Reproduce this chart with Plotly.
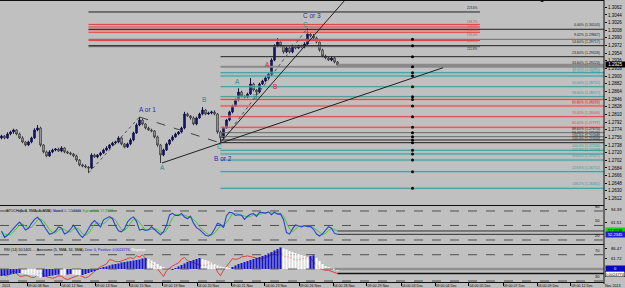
import plotly.graph_objects as go

# ---------------- data ----------------
close = [1.27592, 1.27545, 1.27639, 1.27686, 1.27733, 1.27639, 1.27545, 1.27451, 1.27380, 1.27451,
         1.27545, 1.27733, 1.27780, 1.27380, 1.27216, 1.27122, 1.27216, 1.27263, 1.27286, 1.27239,
         1.27310, 1.27216, 1.27192, 1.27169, 1.27122, 1.27027, 1.26910, 1.26886, 1.26863, 1.26839,
         1.27145, 1.27098, 1.27145, 1.27192, 1.27263, 1.27310, 1.27380, 1.27427, 1.27451, 1.27545,
         1.27404, 1.27333, 1.27404, 1.27498, 1.27663, 1.27851, 1.27968, 1.27874, 1.27780, 1.27733,
         1.27710, 1.27569, 1.27380, 1.27145, 1.27263, 1.27404, 1.27498, 1.27569, 1.27639, 1.27686,
         1.27780, 1.28110, 1.28063, 1.28016, 1.27874, 1.28016, 1.28110, 1.28204, 1.28110, 1.28133,
         1.28157, 1.28110, 1.27686, 1.27545, 1.27780, 1.27968, 1.28157, 1.28298, 1.28439, 1.28627,
         1.28533, 1.28510, 1.28580, 1.28816, 1.28674, 1.28627, 1.28816, 1.28886, 1.28957, 1.29051,
         1.29380, 1.29710, 1.29804, 1.29710, 1.29569, 1.29663, 1.29569, 1.29710, 1.29663, 1.29710,
         1.29686, 1.29757, 1.29992, 1.29945, 1.29898, 1.29804, 1.29616, 1.29474, 1.29427, 1.29380,
         1.29427, 1.29333, 1.29263]
first_open = 1.27545
hi_wick_pips = [3, 2, 4, 3, 3, 2, 3, 4, 2, 3,
                3, 4, 7, 3, 2, 3, 4, 3, 2, 3,
                4, 2, 3, 3, 2, 3, 2, 3, 4, 2,
                4, 3, 2, 3, 3, 4, 2, 3, 3, 4,
                3, 2, 3, 4, 3, 4, 7, 3, 2, 3,
                3, 2, 3, 2, 3, 3, 2, 4, 3, 2,
                3, 5, 3, 2, 4, 3, 3, 7, 2, 3,
                3, 4, 2, 3, 3, 2, 3, 3, 4, 9,
                3, 2, 3, 14, 3, 2, 3, 3, 4, 3,
                4, 4, 9, 3, 2, 4, 3, 3, 2, 3,
                3, 4, 14, 3, 5, 3, 2, 3, 3, 2,
                3, 2, 2]
lo_wick_pips = [3, 3, 2, 3, 4, 3, 2, 3, 3, 2,
                3, 2, 3, 4, 3, 3, 2, 3, 3, 2,
                3, 3, 2, 3, 3, 4, 3, 3, 3, 12,
                3, 2, 3, 3, 2, 3, 3, 2, 3, 3,
                3, 3, 2, 3, 3, 2, 3, 3, 3, 2,
                3, 3, 4, 19, 3, 2, 3, 3, 2, 3,
                3, 3, 2, 4, 3, 3, 2, 3, 3, 2,
                3, 3, 4, 12, 3, 2, 3, 3, 2, 3,
                3, 4, 3, 2, 3, 12, 3, 2, 3, 3,
                2, 3, 3, 3, 4, 3, 3, 3, 3, 2,
                3, 3, 2, 3, 3, 3, 4, 3, 3, 2,
                3, 3, 2]

stoch_main = [37.9, 25.5, 29.7, 37.2, 44.1, 50.7, 56.9, 50.3, 40.7, 44.1,
              54.5, 62.8, 66.9, 60.7, 50.5, 41.4, 31.7, 33.8, 38.6, 46.9,
              44.8, 32.4, 35.5, 42.2, 50.5, 41.4, 31.7, 25.2, 32.4, 43.4,
              53.8, 60.3, 52.8, 46.9, 61.6, 65.7, 68.3, 64.1, 49.3, 39.0,
              36.9, 43.1, 57.2, 64.3, 67.8, 58.6, 40.3, 42.4, 39.7, 41.0,
              47.2, 41.7, 35.9, 31.0, 37.2, 50.3, 71.7, 75.2, 70.7, 70.8,
              75.0, 67.4, 64.0, 69.3, 54.8, 45.5, 41.4, 35.5, 30.0, 27.9,
              32.1, 42.4, 54.5, 51.9, 45.5, 70.3, 77.6, 76.0, 70.7, 72.1,
              71.0, 62.8, 69.1, 73.2, 74.8, 68.6, 77.1, 76.9, 75.7, 78.3,
              72.1, 77.6, 73.4, 74.0, 62.1, 35.3, 32.1, 43.0, 51.3, 49.0,
              47.2, 49.8, 47.6, 47.6, 42.1, 32.4, 28.3, 32.6, 39.8, 47.4,
              44.3, 33.6, 31.7]
stoch_signal = [38.0, 32.0, 31.0, 30.8, 37.0, 44.0, 50.6, 52.6, 49.3, 45.0,
                46.4, 53.8, 61.4, 63.5, 59.4, 50.9, 41.2, 35.6, 34.7, 39.8,
                43.4, 41.4, 37.6, 36.7, 42.7, 44.7, 41.2, 32.8, 29.8, 33.7,
                43.2, 52.5, 55.6, 53.3, 53.8, 58.1, 65.2, 66.0, 60.6, 50.8,
                41.7, 39.7, 45.7, 54.9, 63.1, 63.6, 55.6, 47.1, 40.8, 41.0,
                42.6, 43.3, 41.6, 36.2, 34.7, 39.5, 53.1, 65.7, 72.5, 72.2,
                72.2, 71.1, 68.8, 66.9, 62.7, 56.5, 47.2, 40.8, 35.6, 31.1,
                30.0, 34.1, 43.0, 49.6, 50.6, 55.9, 64.5, 74.6, 74.8, 72.9,
                71.3, 68.6, 67.6, 68.4, 72.4, 72.2, 73.5, 74.2, 76.6, 77.0,
                75.4, 76.0, 74.4, 75.0, 69.8, 57.1, 43.2, 36.8, 42.1, 47.8,
                49.2, 48.7, 48.2, 48.3, 45.8, 40.7, 34.3, 31.1, 33.6, 39.9,
                43.8, 41.8, 38.6]
rsi = [42.1, 38.9, 37.7, 42.1, 46.0, 41.6, 37.2, 37.4, 38.4, 37.5,
       35.3, 35.7, 40.1, 43.3, 39.9, 36.6, 35.4, 34.2, 35.5, 37.8,
       37.2, 33.9, 32.1, 34.3, 36.5, 37.6, 38.7, 37.0, 34.8, 36.7,
       41.1, 45.1, 48.5, 51.6, 53.8, 56.0, 62.5, 61.7, 59.5, 59.3,
       60.4, 62.0, 64.2, 65.7, 63.8, 68.3, 66.4, 69.8, 64.6, 59.8,
       57.5, 54.0, 48.5, 42.7, 36.9, 45.8, 49.5, 52.8, 55.3, 57.5,
       63.1, 65.9, 60.8, 59.7, 58.5, 56.3, 54.1, 53.7, 53.7, 55.1,
       57.3, 54.3, 43.8, 37.9, 46.6, 52.2, 57.7, 64.2, 62.8, 63.8,
       66.6, 67.7, 68.2, 67.1, 66.0, 64.9, 63.8, 64.5, 65.6, 67.4,
       69.6, 72.7, 75.3, 72.7, 68.1, 67.0, 66.2, 64.2, 62.0, 62.5,
       64.0, 64.7, 65.4, 65.1, 59.1, 54.0, 49.5, 47.5, 46.3, 46.3,
       44.8, 42.3, 41.4]
ao_e4 = [-10.5, -9.8, -9.0, -8.3, -7.5, -6.8, -6.0,
         -6.8, -7.5, -8.3, -9.0, -9.8, -10.5, -12.8,
         -12.0, -11.3, -10.5, -9.8, -9.0, -8.3,
         -9.0, -9.8, -8.3, -7.5, -8.3, -9.0, -9.8, -9.0, -7.5, -6.0,
         -4.5, -3.0, -1.5,
         0.8, 2.3, 3.8, 5.3, 6.8, 7.5, 8.3, 9.8, 10.5, 11.3, 12.0, 12.8, 13.5, 14.3, 15.8, 16.5,
         15.0, 12.8, 10.5, 7.5, 4.5,
         2.3, 0.8, -1.5,
         -0.8, 1.5,
         3.8, 6.0, 8.3, 10.5, 12.0, 13.5, 15.0, 16.5,
         15.0, 13.5, 12.0, 9.8, 7.5, 5.3, 3.8,
         3.0, 2.3, 1.5,
         3.0, 5.3, 7.5, 9.0, 10.5, 12.0, 13.5, 15.0, 16.5, 18.0, 19.5, 21.0, 23.3, 25.5, 27.8, 30.0, 32.3,
         30.8, 29.3, 27.0, 25.5, 24.0, 22.5, 21.0, 19.5, 18.0,
         19.5, 20.3, 16.5, 12.0, 7.5, 4.5, 2.3, 0.8, -1.5, -3.0]

# Fibonacci extension levels (drawn from the first swing low to mid-chart)
ext_pct = ["223.6%", "138.2%", "150.0%", "161.8%", "176.4%", "200.0%", "211.8%"]
ext_price = [1.30510, 1.30216, 1.30157, 1.30091, 1.30032, 1.29839, 1.29693]
ext_kind = ["k", "r", "r", "r", "r", "r", "g"]
# Fibonacci levels running to the right edge
fib_pct = ["0.00%", "9.02%", "14.60%", "23.60%", "33.60%", "38.20%", "41.40%", "50.00%",
           "58.60%", "61.80%", "66.80%", "76.40%", "85.40%", "88.60%", "94.40%", "100.0%",
           "100.0%", "100.0%", "103.3%", "114.6%", "123.6%", "138.2%"]
fib_price = [1.30103, 1.29867, 1.29717, 1.29458, 1.29223, 1.29081, 1.29004, 1.28752,
             1.28517, 1.28451, 1.28298, 1.28046, 1.27797, 1.27670, 1.27576, 1.27498,
             1.27434, 1.27256, 1.27169, 1.27027, 1.26752, 1.26361]
fib_kind = ["k", "g", "k", "k", "G", "t", "t", "t",
            "t", "r", "r", "r", "r", "g", "g", "k",
            "k", "t", "t", "t", "t", "t"]
fib_anchor_bar = [29, 29, 29, 73, 73, 73, 73, 73, 73, 73, 73, 73, 73, 73, 73, 73,
                  73, 73, 73, 73, 73, 73]
ext_anchor_bar = 29
ext_end_bar = 159.5
marker_bar = 137

# wave labels
wave_text = ["A or 1", "B", "A", "B or 2", "C", "A", "B", "A", "B", "C", "C or 3"]
wave_bar = [48.5, 67.5, 53.5, 73.8, 72.8, 78.5, 84.5, 88.5, 91.2, 101.2, 103.5]
wave_price = [1.28204, 1.28439, 1.26839, 1.27074, 1.27333, 1.28863, 1.28510, 1.29263,
              1.28745, 1.30204, 1.30439]
wave_kind = ["n", "t", "t", "n", "t", "t", "t", "r", "r", "t", "n"]

# trend lines: (bar0, price0, bar1, price1)
trend_solid = [(72.8, 1.27427, 114.5, 1.30792), (53.5, 1.26957, 147.2, 1.29199)]
trend_dash = [(46, 1.28039, 73, 1.27427)]
trend_dot = [(29, 1.26722, 46, 1.28039), (73, 1.27427, 102, 1.30133)]

price_ticks = ["1.2612", "1.2630", "1.2648", "1.2666", "1.2684", "1.2702", "1.2720", "1.2738",
               "1.2756", "1.2774", "1.2792", "1.2810", "1.2828", "1.2846", "1.2864", "1.2882",
               "1.2900", "1.2918", "1.2936", "1.2954", "1.2972", "1.2990", "1.3008", "1.3026",
               "1.3044", "1.3062", "1.3080"]
time_tick_bar = [8.5, 19.8, 31.2, 42.5, 53.8, 65.2, 76.5, 87.8, 99.2, 110.5, 121.8, 133.2,
                 144.5, 155.8, 167.2, 178.5, 189.8]
time_tick_text = ["09:00 08 Nov", "04:00 12 Nov", "09:00 13 Nov", "04:00 15 Nov", "09:00 19 Nov",
                  "04:00 20 Nov", "09:00 21 Nov", "04:00 23 Nov", "09:00 26 Nov", "04:00 28 Nov",
                  "09:00 29 Nov", "04:00 03 Dec", "09:00 04 Dec", "04:00 05 Dec", "09:00 07 Dec",
                  "04:00 09 Dec", "09:00 12 Dec"]
stoch_levels = [80, 50, 20]
rsi_levels = [70, 30]
current_price = 1.29263

# ---------------- styling ----------------
W, H = 625, 288
AX_R = 604 / W
BG = "#c0c0c0"
FONT = "Liberation Sans"
COL = {"k": "#202020", "r": "#d84a4a", "g": "#6a6a6a", "G": "#8a8a8a", "t": "#3a9a9a",
       "n": "#2a2ab0"}
HALO = {"r": "rgba(240,150,150,0.5)", "t": "rgba(120,200,200,0.4)"}
X_RANGE = [-0.5, -0.5 + 604 / 3]
N = len(close)
bars = list(range(N))
# vertical nudges (px) so stacked extension labels do not collide
ext_label_shift = [0, 2, 0.5, -0.7, -2.2, 0, -2]

opens = [first_open] + close[:-1]
highs = [max(o, c) + w * 1e-4 for o, c, w in zip(opens, close, hi_wick_pips)]
lows = [min(o, c) - w * 1e-4 for o, c, w in zip(opens, close, lo_wick_pips)]

fig = go.Figure()

def hline(x0, x1, y, color, width=1, dash="solid", yaxis="y"):
    fig.add_trace(go.Scatter(x=[x0, x1], y=[y, y], mode="lines", yaxis=yaxis,
                             line=dict(color=color, width=width, dash=dash),
                             hoverinfo="skip"))

def level(x0, x1, y, kind, width=1):
    if kind in HALO:
        hline(x0, x1, y, HALO[kind], 3)
    hline(x0, x1, y, COL[kind], width)

for p, k in zip(ext_price, ext_kind):
    level(ext_anchor_bar, ext_end_bar, p, k)
for p, k, a in zip(fib_price, fib_kind, fib_anchor_bar):
    level(a, X_RANGE[1], p, k, 2 if k == "G" else 1)
hline(N - 1, X_RANGE[1], current_price, "#8a8a8a", 2.5)

for (b0, p0, b1, p1) in trend_solid:
    fig.add_trace(go.Scatter(x=[b0, b1], y=[p0, p1], mode="lines",
                             line=dict(color="#202020", width=1), hoverinfo="skip"))
for (b0, p0, b1, p1) in trend_dash:
    fig.add_trace(go.Scatter(x=[b0, b1], y=[p0, p1], mode="lines",
                             line=dict(color="#404040", width=1, dash="dash"), hoverinfo="skip"))
for (b0, p0, b1, p1) in trend_dot:
    fig.add_trace(go.Scatter(x=[b0, b1], y=[p0, p1], mode="lines",
                             line=dict(color="#505050", width=1, dash="dot"), hoverinfo="skip"))

fig.add_trace(go.Candlestick(
    x=bars, open=opens, high=highs, low=lows, close=close,
    increasing=dict(line=dict(color="#10104a", width=1), fillcolor="#1c1c86"),
    decreasing=dict(line=dict(color="#383838", width=1), fillcolor="#e4e4e4"),
    whiskerwidth=0, hoverinfo="skip"))

fig.add_trace(go.Scatter(x=[marker_bar] * (len(fib_price) - 1), y=fib_price[1:], mode="markers",
                         marker=dict(color="black", size=3), hoverinfo="skip"))
fig.add_trace(go.Scatter(x=[180.2], y=[1.30792], mode="markers",
                         marker=dict(color="black", size=4), hoverinfo="skip", cliponaxis=True))

# stochastic
for lv in stoch_levels:
    hline(X_RANGE[0], X_RANGE[1], lv, "#505050", 1, "dash", "y2")
fig.add_trace(go.Scatter(x=bars, y=stoch_signal, mode="lines", yaxis="y2",
                         line=dict(color="#3cc83c", width=1), hoverinfo="skip"))
fig.add_trace(go.Scatter(x=bars, y=stoch_main, mode="lines", yaxis="y2",
                         line=dict(color="#2a44c8", width=1.1), hoverinfo="skip"))
hline(N - 1, X_RANGE[1], stoch_signal[-1], "#303030", 1, "solid", "y2")
hline(N - 1, X_RANGE[1], stoch_main[-1], "#303030", 1, "solid", "y2")

# RSI + Awesome
for lv in rsi_levels:
    hline(X_RANGE[0], X_RANGE[1], lv, "#505050", 1, "dash", "y3")
ao_cols = ["#1414d0"] + ["#1414d0" if ao_e4[i] > ao_e4[i - 1] else "#ffffff" for i in range(1, N)]
fig.add_trace(go.Bar(x=bars, y=ao_e4, yaxis="y4", marker=dict(color=ao_cols, line=dict(width=0)),
                     width=0.7, hoverinfo="skip"))
hline(X_RANGE[0], X_RANGE[1], 0, "#606060", 1, "dash", "y4")
hline(N - 2, X_RANGE[1], 0, "#909090", 2.5, "solid", "y4")
fig.add_trace(go.Scatter(x=bars, y=rsi, mode="lines", yaxis="y3",
                         line=dict(color="#e04030", width=1), hoverinfo="skip"))
hline(N - 1, X_RANGE[1], rsi[-1], "#101010", 1.5, "solid", "y3")

ann = []
def txt(x, y, s, color="black", size=4.5, xanchor="center", yanchor="middle",
        xref="x", yref="y", **kw):
    ann.append(dict(x=x, y=y, text=s, showarrow=False, xref=xref, yref=yref,
                    xanchor=xanchor, yanchor=yanchor,
                    font=dict(family=FONT, size=size, color=color), **kw))

for i, (p, k, s) in enumerate(zip(ext_price, ext_kind, ext_pct)):
    c = COL[k] if k != "g" else "#202020"
    txt(ext_end_bar, p, s, c, 3.1, "right", "bottom" if i == 0 else "middle",
        yshift=ext_label_shift[i])
for s, p, k in zip(fib_pct, fib_price, fib_kind):
    c = COL[k] if k not in ("g", "G") else "#202020"
    va = "top" if s in ("61.80%",) else "bottom"
    txt(X_RANGE[1] - 0.6, p, f"{s} ({p:.5f})", c, 3.5, "right", va)
for s, b, p, k in zip(wave_text, wave_bar, wave_price, wave_kind):
    c = {"n": "#2a2ab0", "t": "#2a8c8c", "r": "#d02828"}[k]
    txt(b, p, s, c, 6.5)

# right side value boxes
txt(605 / W, current_price, "1.2925", "white", 4.5, "left", "middle", xref="paper",
    bgcolor="black", borderpad=0, width=19)
txt(605 / W, stoch_signal[-1], "57.8538", "black", 4, "left", "middle", xref="paper", yref="y2",
    bgcolor="#18d018", borderpad=0, width=19)
txt(605 / W, stoch_main[-1], "52.2345", "white", 4, "left", "middle", xref="paper", yref="y2",
    bgcolor="#2020c8", borderpad=0, width=19)
txt(605 / W, 0.4, "0", "white", 4, "left", "middle", xref="paper", yref="y4",
    bgcolor="#0808c0", borderpad=0, width=19)
txt(605 / W, rsi[-1], "0.0024774", "black", 4, "left", "middle", xref="paper", yref="y3",
    bgcolor="white", bordercolor="black", borderwidth=0.5, borderpad=0, width=19)
txt(609 / W, 82.1, "94.39", "black", 4.2, "left", "middle", xref="paper", yref="y2")
txt(609 / W, 57.2, "61.51", "black", 4.2, "left", "middle", xref="paper", yref="y2")
txt(609 / W, 78.9, "86.47", "black", 4.2, "left", "middle", xref="paper", yref="y3")
txt(609 / W, 64.1, "61.72", "black", 4.2, "left", "middle", xref="paper", yref="y3")
for lv in stoch_levels:
    txt(602 / W, lv, str(lv), "black", 4, "right", "bottom", xref="paper", yref="y2")
for lv in rsi_levels:
    txt(602 / W, lv, str(lv), "black", 4, "right", "bottom", xref="paper", yref="y3")
txt(4 / W, 1 - 211 / H,
    "STOCH (5, 3, SMA, 3, SMA) <span style='color:#2a44c8'>Main 3.0, 52.2345</span> "
    "<span style='color:#2a9a2a'>Signal 3.0, 57.8538</span>",
    "black", 3.6, "left", "middle", xref="paper", yref="paper")
txt(2 / W, 1 - 250 / H,
    "RSI (14) 50.1405 <span style='color:#e04030'>—</span> Awesome (5, SMA, 34, SMA) "
    "<span style='color:#1414d0'>Zero: 0, Positive: 0.0024774,</span> "
    "<span style='color:#ffffff'>Negative</span>",
    "black", 3.6, "left", "middle", xref="paper", yref="paper")
txt(0, 1 - 285.5 / H, "2013", "black", 3.6, "left", "middle", xref="paper", yref="paper")
txt(622 / W, 1 - 285.5 / H, "Nov 2013", "black", 3.6, "right", "middle", xref="paper", yref="paper")

shapes = []
for ypx in [0.5, 205.5, 244.5, 282.5]:
    shapes.append(dict(type="line", xref="paper", yref="paper", x0=0, x1=AX_R,
                       y0=1 - ypx / H, y1=1 - ypx / H, line=dict(color="#101010", width=1)))
shapes.append(dict(type="line", xref="paper", yref="paper", x0=AX_R, x1=AX_R,
                   y0=1 - 284 / H, y1=1, line=dict(color="#101010", width=1)))

axis_font = dict(family=FONT, size=4.5, color="black")
fig.update_layout(
    width=W, height=H, margin=dict(l=0, r=0, t=0, b=0),
    paper_bgcolor=BG, plot_bgcolor=BG, showlegend=False,
    annotations=ann, shapes=shapes, bargap=0.3,
    xaxis=dict(domain=[0, AX_R], range=X_RANGE, anchor="y3", showgrid=False, zeroline=False,
               rangeslider=dict(visible=False), showline=False,
               tickmode="array", tickvals=time_tick_bar, ticktext=time_tick_text,
               ticks="outside", ticklen=3, tickcolor="black", tickwidth=1,
               ticklabelposition="outside right",
               tickfont=dict(family=FONT, size=3.6, color="black")),
    yaxis=dict(domain=[1 - 205 / H, 1], range=[1.25968, 1.30792], side="right", anchor="x",
               showgrid=False, zeroline=False, showline=False,
               tickmode="array", tickvals=[float(t) for t in price_ticks], ticktext=price_ticks,
               ticks="outside", ticklen=2, tickcolor="black", tickfont=axis_font),
    yaxis2=dict(domain=[1 - 244 / H, 1 - 206 / H], range=[11.7, 90.3], side="right", anchor="x",
                showgrid=False, zeroline=False, showticklabels=False,
                tickmode="array", tickvals=[82.1, 57.2], ticks="outside", ticklen=2,
                tickcolor="black"),
    yaxis3=dict(domain=[1 - 282 / H, 1 - 245 / H], range=[28.5, 84.8], side="right", anchor="x",
                showgrid=False, zeroline=False, showticklabels=False,
                tickmode="array", tickvals=[78.9, 64.1], ticks="outside", ticklen=2,
                tickcolor="black"),
    yaxis4=dict(overlaying="y3", range=[-19.5, 36], visible=False, anchor="x"),
)

fig.write_html("out.html")
